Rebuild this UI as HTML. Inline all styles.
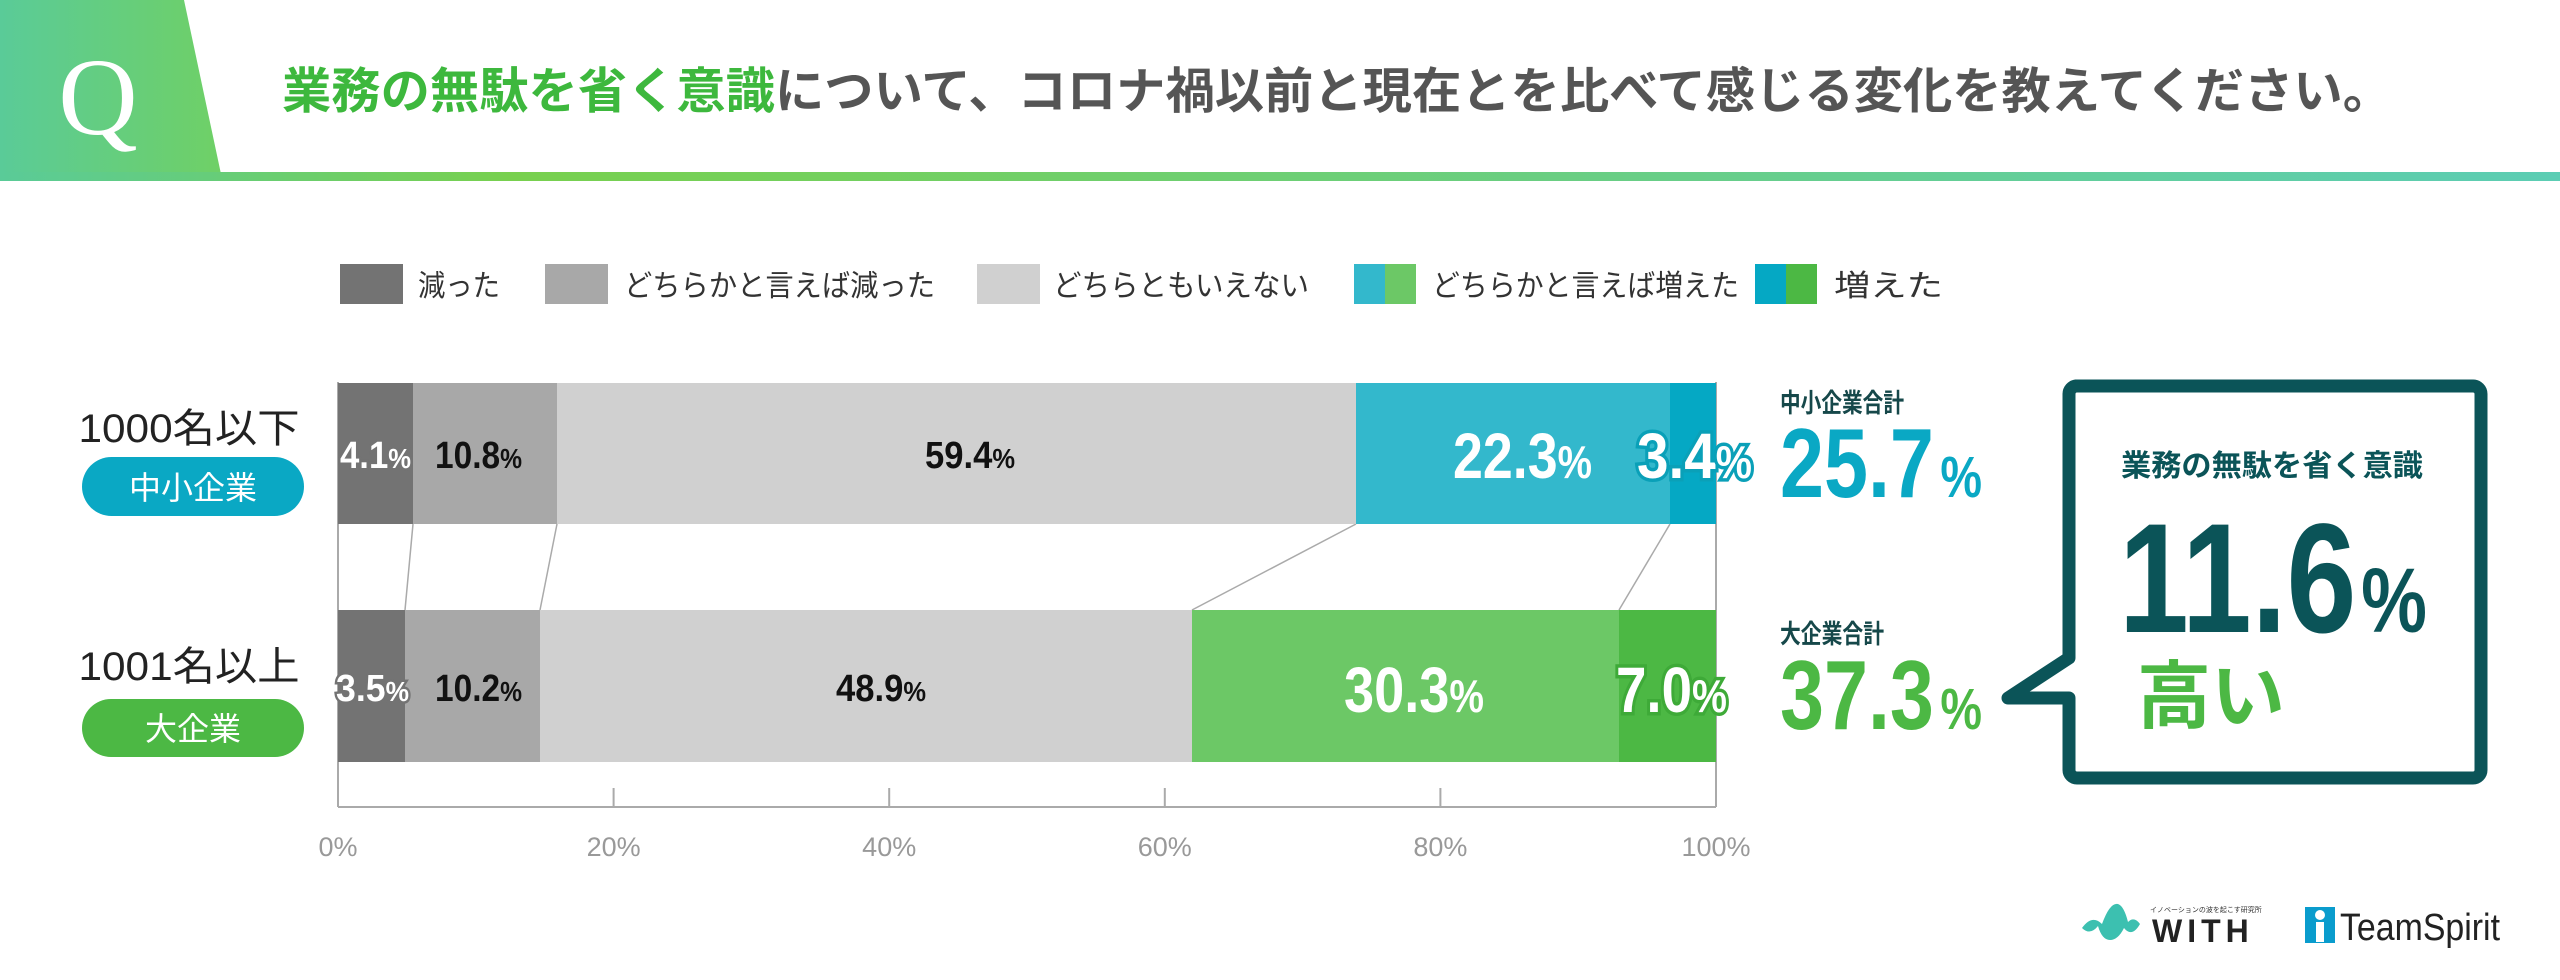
<!DOCTYPE html>
<html><head><meta charset="utf-8"><style>
html,body{margin:0;padding:0;background:#fff}
svg{display:block}
.n{font-family:"Liberation Sans",sans-serif;font-weight:bold}
.j{font-family:"Liberation Sans","Noto Sans CJK JP",sans-serif}
</style></head><body>
<svg width="2560" height="980" viewBox="0 0 2560 980" xmlns="http://www.w3.org/2000/svg">
<defs>
<linearGradient id="qg" x1="0" x2="1" y1="0" y2="0"><stop offset="0" stop-color="#5acb98"/><stop offset="1" stop-color="#6fd066"/></linearGradient>
<linearGradient id="lg" x1="0" x2="1" y1="0" y2="0"><stop offset="0" stop-color="#5acb98"/><stop offset="0.2" stop-color="#78d04e"/><stop offset="1" stop-color="#5ccdb4"/></linearGradient>
</defs>
<polygon points="0,0 184,0 221,174 0,174" fill="url(#qg)"/>
<rect x="0" y="172" width="2560" height="9" fill="url(#lg)"/>
<text x="98" y="134" text-anchor="middle" font-family="Liberation Serif,serif" font-size="110" fill="#fff">Q</text>
<text x="282" y="108" class="j" font-size="49" font-weight="bold" fill="#555" textLength="2110" lengthAdjust="spacingAndGlyphs"><tspan fill="#3db83d">業務の無駄を省く意識</tspan>について、コロナ禍以前と現在とを比べて感じる変化を教えてください。</text>
<g class="j" font-size="30" fill="#333">
<rect x="340" y="264" width="63" height="40" fill="#737373"/><text x="418" y="296" textLength="82" lengthAdjust="spacingAndGlyphs">減った</text>
<rect x="545" y="264" width="63" height="40" fill="#a8a8a8"/><text x="624" y="296" textLength="311" lengthAdjust="spacingAndGlyphs">どちらかと言えば減った</text>
<rect x="977" y="264" width="63" height="40" fill="#d0d0d0"/><text x="1053" y="296" textLength="256" lengthAdjust="spacingAndGlyphs">どちらともいえない</text>
<rect x="1354" y="264" width="31" height="40" fill="#33b8cc"/><rect x="1385" y="264" width="31" height="40" fill="#6cc866"/><text x="1432" y="296" textLength="307" lengthAdjust="spacingAndGlyphs">どちらかと言えば増えた</text>
<rect x="1755" y="264" width="31" height="40" fill="#05a8c4"/><rect x="1786" y="264" width="31" height="40" fill="#4cb844"/><text x="1834" y="296" textLength="109" lengthAdjust="spacingAndGlyphs">増えた</text>
</g>
<g stroke="#aaa" stroke-width="2" fill="none">
<line x1="338" y1="382" x2="338" y2="807"/>
<line x1="1716" y1="382" x2="1716" y2="807"/>
<line x1="338" y1="807" x2="1716" y2="807"/>
<line x1="613.6" y1="788" x2="613.6" y2="807"/>
<line x1="889.2" y1="788" x2="889.2" y2="807"/>
<line x1="1164.8" y1="788" x2="1164.8" y2="807"/>
<line x1="1440.4" y1="788" x2="1440.4" y2="807"/>
<line x1="413" y1="524" x2="405" y2="610" stroke-width="1.5"/>
<line x1="557" y1="524" x2="540" y2="610" stroke-width="1.5"/>
<line x1="1356" y1="524" x2="1192" y2="610" stroke-width="1.5"/>
<line x1="1670" y1="524" x2="1619" y2="610" stroke-width="1.5"/>
</g>
<g class="j" font-size="27" fill="#999" text-anchor="middle">
<text x="338" y="856">0%</text><text x="613.6" y="856">20%</text><text x="889.2" y="856">40%</text><text x="1164.8" y="856">60%</text><text x="1440.4" y="856">80%</text><text x="1716" y="856">100%</text>
</g>
<rect x="338" y="383" width="75" height="141" fill="#737373"/>
<rect x="413" y="383" width="144" height="141" fill="#a8a8a8"/>
<rect x="557" y="383" width="799" height="141" fill="#d0d0d0"/>
<rect x="1356" y="383" width="314" height="141" fill="#33b8cc"/>
<rect x="1670" y="383" width="46" height="141" fill="#05a8c4"/>
<rect x="338" y="610" width="67" height="152" fill="#737373"/>
<rect x="405" y="610" width="135" height="152" fill="#a8a8a8"/>
<rect x="540" y="610" width="652" height="152" fill="#d0d0d0"/>
<rect x="1192" y="610" width="427" height="152" fill="#6cc866"/>
<rect x="1619" y="610" width="97" height="152" fill="#4cb844"/>
<g class="n">
<text x="340" y="468" font-size="38" fill="#fff" stroke="#737373" stroke-width="5" paint-order="stroke" textLength="71" lengthAdjust="spacingAndGlyphs">4.1<tspan font-size="28">%</tspan></text>
<text x="435" y="468" font-size="38" fill="#111" textLength="87" lengthAdjust="spacingAndGlyphs">10.8<tspan font-size="28">%</tspan></text>
<text x="925" y="468" font-size="38" fill="#111" textLength="90" lengthAdjust="spacingAndGlyphs">59.4<tspan font-size="28">%</tspan></text>
<text x="1453" y="478" font-size="64" fill="#fff" textLength="139" lengthAdjust="spacingAndGlyphs">22.3<tspan font-size="46">%</tspan></text>
<text x="1637" y="478" font-size="64" fill="#fff" stroke="#0aa0b8" stroke-width="7" paint-order="stroke" textLength="115" lengthAdjust="spacingAndGlyphs">3.4<tspan font-size="46">%</tspan></text>
<text x="336" y="701" font-size="38" fill="#fff" stroke="#737373" stroke-width="5" paint-order="stroke" textLength="73" lengthAdjust="spacingAndGlyphs">3.5<tspan font-size="28">%</tspan></text>
<text x="435" y="701" font-size="38" fill="#111" textLength="87" lengthAdjust="spacingAndGlyphs">10.2<tspan font-size="28">%</tspan></text>
<text x="836" y="701" font-size="38" fill="#111" textLength="90" lengthAdjust="spacingAndGlyphs">48.9<tspan font-size="28">%</tspan></text>
<text x="1344" y="712" font-size="64" fill="#fff" textLength="140" lengthAdjust="spacingAndGlyphs">30.3<tspan font-size="46">%</tspan></text>
<text x="1616" y="712" font-size="64" fill="#fff" stroke="#3eaa38" stroke-width="7" paint-order="stroke" textLength="111" lengthAdjust="spacingAndGlyphs">7.0<tspan font-size="46">%</tspan></text>
</g>
<g class="j">
<text x="189" y="442" font-size="40" fill="#222" text-anchor="middle" textLength="221" lengthAdjust="spacingAndGlyphs">1000名以下</text>
<rect x="82" y="457" width="222" height="59" rx="29.5" fill="#0aa8c4"/>
<text x="193" y="499" font-size="32" fill="#fff" text-anchor="middle">中小企業</text>
<text x="189" y="680" font-size="40" fill="#222" text-anchor="middle" textLength="221" lengthAdjust="spacingAndGlyphs">1001名以上</text>
<rect x="82" y="699" width="222" height="58" rx="29" fill="#4cb844"/>
<text x="193" y="740" font-size="32" fill="#fff" text-anchor="middle">大企業</text>
</g>
<text x="1780" y="412" class="j" font-size="26" font-weight="bold" fill="#16484a" textLength="124" lengthAdjust="spacingAndGlyphs">中小企業合計</text>
<text x="1780" y="497" class="n" font-size="98" fill="#0aa8c4" textLength="202" lengthAdjust="spacingAndGlyphs">25.7<tspan font-size="58" dx="8">%</tspan></text>
<text x="1780" y="643" class="j" font-size="26" font-weight="bold" fill="#16484a" textLength="104" lengthAdjust="spacingAndGlyphs">大企業合計</text>
<text x="1780" y="729" class="n" font-size="98" fill="#4cb844" textLength="202" lengthAdjust="spacingAndGlyphs">37.3<tspan font-size="58" dx="8">%</tspan></text>
<path d="M2076,386 H2473 A8,8 0 0 1 2481,394 V770 A8,8 0 0 1 2473,778 H2077 A8,8 0 0 1 2069,770 V698 H2008 L2069,658 V394 A8,8 0 0 1 2076,386 Z" fill="#fff" stroke="#0b5458" stroke-width="13" stroke-linejoin="round"/>
<text x="2121" y="476" class="j" font-size="30" font-weight="bold" fill="#0b5458" textLength="302" lengthAdjust="spacingAndGlyphs">業務の無駄を省く意識</text>
<text x="2119" y="632" class="n" font-size="156" fill="#0b5458" textLength="308" lengthAdjust="spacingAndGlyphs">11.6<tspan font-size="92" dx="6">%</tspan></text>
<text x="2137" y="722" class="j" font-size="74" fill="#4cb844" font-weight="bold">高い</text>
<path d="M2082,928 q10,-14 20,-4 q8,-22 16,-20 q6,2 10,18 q6,-6 12,2 q-8,14 -16,4 q-6,12 -14,12 q-8,0 -12,-14 q-8,10 -16,2 z" fill="#3cc0b0"/>
<text x="2150" y="912" class="j" font-size="7" fill="#333">イノベーションの波を起こす研究所</text>
<text x="2152" y="942" class="j" font-size="32" font-weight="bold" fill="#222" letter-spacing="5">WITH</text>
<rect x="2305" y="907" width="30" height="36" fill="#0a9ccd"/>
<circle cx="2320" cy="915" r="5" fill="#fff"/>
<rect x="2316" y="922" width="8" height="20" fill="#fff"/>
<text x="2340" y="940" class="j" font-size="38" fill="#222" textLength="160" lengthAdjust="spacingAndGlyphs">TeamSpirit</text>
</svg>
</body></html>
